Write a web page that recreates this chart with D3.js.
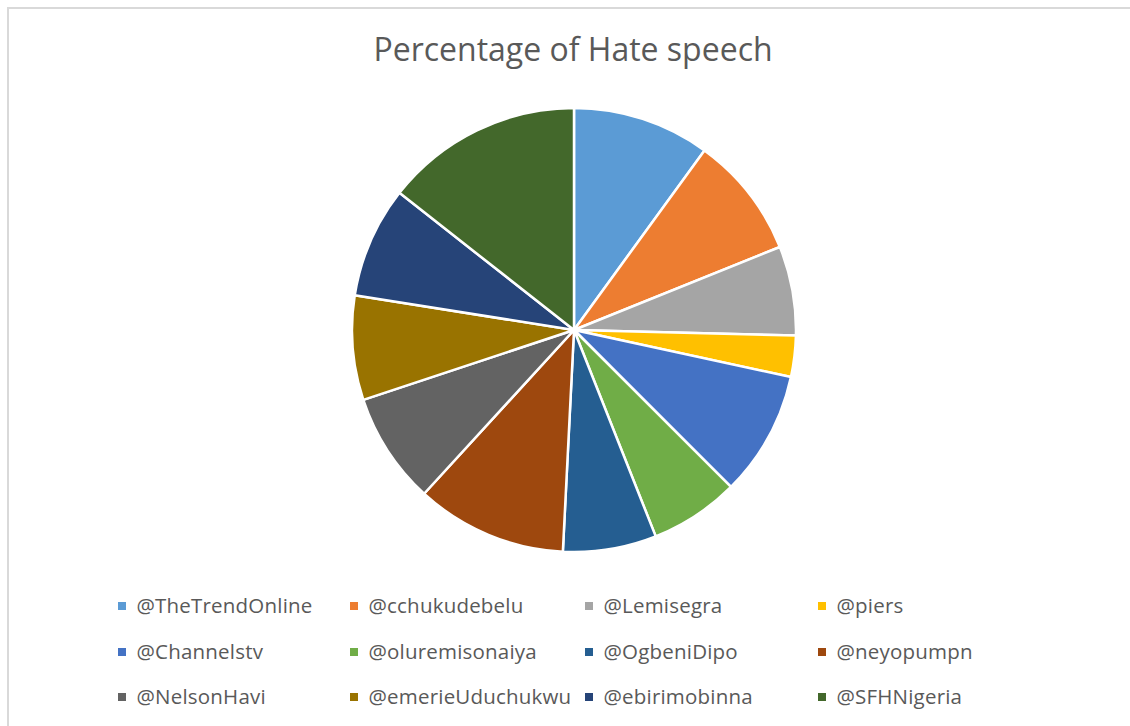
<!DOCTYPE html>
<html><head><meta charset="utf-8">
<script src="https://cdn.jsdelivr.net/npm/d3@7"></script>
<style>html,body{margin:0;padding:0;background:#fff;}</style>
</head><body>
<svg id="chart" width="1130" height="726"></svg>
<script>
const title = "Percentage of Hate speech";
const categories = ["@TheTrendOnline","@cchukudebelu","@Lemisegra","@piers","@Channelstv","@oluremisonaiya","@OgbeniDipo","@neyopumpn","@NelsonHavi","@emerieUduchukwu","@ebirimobinna","@SFHNigeria"];
const values = [10.0, 8.9, 6.5, 3.0, 9.1, 6.5, 6.8, 11.0, 8.1, 7.6, 8.1, 14.4];
const colors = ["#5B9BD5","#ED7D31","#A5A5A5","#FFC000","#4472C4","#70AD47","#255E91","#9E480E","#636363","#997300","#264478","#43682B"];

const svg = d3.select("#chart");
svg.append("rect").attr("x",8).attr("y",8).attr("width",1140).attr("height",740)
  .attr("fill","#fff").attr("stroke","#d9d9d9").attr("stroke-width",2);

svg.append("text").attr("x",573).attr("y",61).attr("text-anchor","middle")
  .attr("font-family","'Open Sans', 'Liberation Sans', sans-serif").attr("font-size",32)
  .attr("fill","#595959").text(title);

const data = categories.map((c,i)=>({name:c,value:values[i],color:colors[i]}));
const pie = d3.pie().value(d=>d.value).sort(null);
const arc = d3.arc().innerRadius(0).outerRadius(222);
const g = svg.append("g").attr("transform","translate(574,330)");
g.selectAll("path").data(pie(data)).join("path")
  .attr("d",arc).attr("fill",d=>d.data.color)
  .attr("stroke","#fff").attr("stroke-width",2.5).attr("stroke-linejoin","round");

const colX = [122, 354, 589, 822];
const rowY = [606, 652, 697];
const leg = svg.append("g");
data.forEach((d,i)=>{
  const cx = colX[i%4], cy = rowY[Math.floor(i/4)];
  leg.append("rect").attr("x",cx-4).attr("y",cy-4).attr("width",8).attr("height",8).attr("fill",d.color);
  leg.append("text").attr("x",cx+14.5).attr("y",cy+7)
    .attr("font-family","'Open Sans', 'Liberation Sans', sans-serif").attr("font-size",20.5)
    .attr("letter-spacing",0.2)
    .attr("fill","#595959").text(d.name);
});
</script>
</body></html>
